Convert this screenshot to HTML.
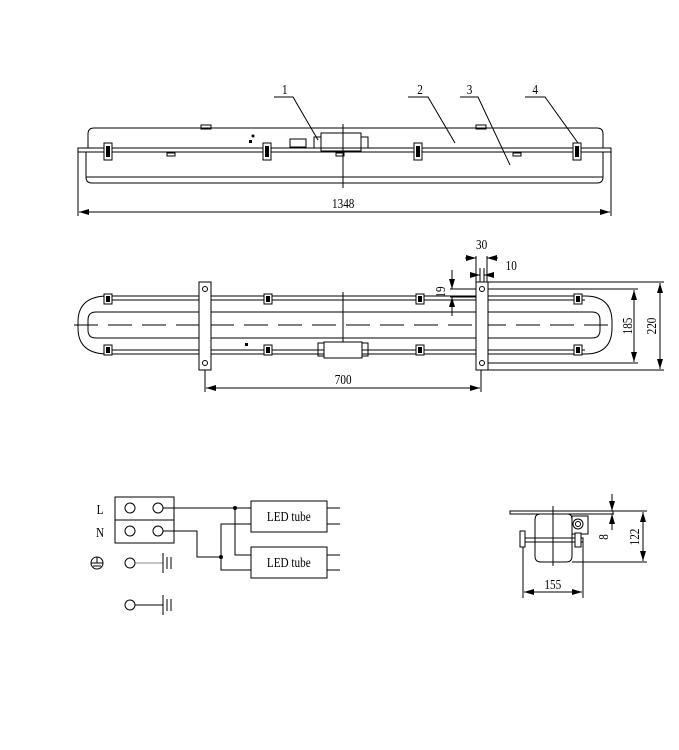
<!DOCTYPE html>
<html><head><style>
body{margin:0;background:#fff}
svg{display:block}
text{font-family:"Liberation Serif",serif;font-size:14px;fill:#000}
</style></head><body>
<svg width="679" height="750" viewBox="0 0 679 750" xmlns="http://www.w3.org/2000/svg">
<defs>
<marker id="a" viewBox="0 0 10 6" refX="10" refY="3" markerWidth="10" markerHeight="6" orient="auto-start-reverse"><path d="M0,0L10,3L0,6z" fill="#000"/></marker>
<g id="clip"><rect x="-4" y="0" width="8" height="17" fill="#fff" stroke="#000"/><rect x="-2" y="3" width="4" height="11" fill="#000"/></g>
<g id="c2"><rect x="-4" y="-5" width="8" height="10" fill="#fff" stroke="#000"/><rect x="-2" y="-3" width="4" height="6" fill="#000"/></g>
</defs>
<g fill="none" stroke="#000" stroke-width="1">
<path d="M94,128H597Q603,128 603,134V148H88V134Q88,128 94,128z"/>
<path d="M78,148H611V152H78z"/>
<path d="M86,152V177Q86,183 92,183H597Q603,183 603,177V152"/>
<line x1="86" y1="177" x2="603" y2="177"/>
<rect x="201" y="125" width="10" height="4"/><rect x="476" y="125" width="10" height="4"/>
<rect x="167" y="153" width="8" height="3"/><rect x="336" y="153" width="8" height="3"/><rect x="513" y="153" width="8" height="3"/>
<rect x="290" y="139" width="16" height="8"/>
<rect x="321" y="133" width="40" height="18"/>
<rect x="314" y="137" width="7" height="11"/><rect x="361" y="137" width="7" height="11"/>
<line x1="343" y1="124" x2="343" y2="188"/>
<line x1="78" y1="152" x2="78" y2="216"/><line x1="611" y1="152" x2="611" y2="216"/>
<line x1="79" y1="212" x2="610" y2="212" marker-start="url(#a)" marker-end="url(#a)"/>
<polyline points="274,97 293,97 318,140"/>
<polyline points="408,97 428,97 455,143"/>
<polyline points="460,97 478,97 510,165"/>
<polyline points="525,97 545,97 578,143"/>
<path d="M108,296H585Q612,296 612,322V328Q612,354 585,354H108Q78,354 78,328V322Q78,296 108,296z"/>
<line x1="108" y1="300" x2="585" y2="300"/><line x1="108" y1="350" x2="585" y2="350"/>
<path d="M96,312H592Q600,312 600,320V330Q600,338 592,338H96Q88,338 88,330V320Q88,312 96,312z"/>
<line x1="74" y1="325" x2="618" y2="325" stroke-dasharray="24,10"/>
<rect x="199" y="282" width="12" height="88" fill="#fff"/>
<rect x="476" y="282" width="12" height="88" fill="#fff"/>
<circle cx="205" cy="289" r="2.5"/><circle cx="205" cy="363" r="2.5"/>
<circle cx="482" cy="289" r="2.5"/><circle cx="482" cy="363" r="2.5"/>
<line x1="343" y1="292" x2="343" y2="358"/>
<rect x="324" y="342" width="38" height="16" fill="#fff"/><rect x="318" y="343" width="6" height="13"/><rect x="362" y="343" width="6" height="13"/>
<line x1="205" y1="370" x2="205" y2="392"/><line x1="481" y1="370" x2="481" y2="392"/>
<line x1="206" y1="388" x2="480" y2="388" marker-start="url(#a)" marker-end="url(#a)"/>
<line x1="488" y1="282" x2="664" y2="282"/><line x1="488" y1="370" x2="664" y2="370"/>
<line x1="488" y1="289" x2="638" y2="289"/><line x1="488" y1="363" x2="638" y2="363"/>
<line x1="660" y1="283" x2="660" y2="369" marker-start="url(#a)" marker-end="url(#a)"/>
<line x1="634" y1="290" x2="634" y2="362" marker-start="url(#a)" marker-end="url(#a)"/>
<line x1="476" y1="256" x2="476" y2="282"/><line x1="487" y1="256" x2="487" y2="282"/>
<line x1="465" y1="258" x2="476" y2="258" marker-end="url(#a)"/><line x1="498" y1="258" x2="487" y2="258" marker-end="url(#a)"/>
<line x1="480" y1="268" x2="480" y2="282"/><line x1="484" y1="268" x2="484" y2="282"/>
<line x1="470" y1="275" x2="480" y2="275" marker-end="url(#a)"/><line x1="494" y1="275" x2="484" y2="275" marker-end="url(#a)"/>
<line x1="450" y1="289" x2="476" y2="289"/><line x1="450" y1="297" x2="476" y2="297"/>
<line x1="452" y1="270" x2="452" y2="289" marker-end="url(#a)"/><line x1="452" y1="316" x2="452" y2="297" marker-end="url(#a)"/>
<rect x="115" y="497" width="59" height="46"/><line x1="115" y1="520" x2="174" y2="520"/>
<circle cx="130" cy="508" r="5"/><circle cx="158" cy="508" r="5"/><circle cx="130" cy="531" r="5"/><circle cx="158" cy="531" r="5"/>
<rect x="251" y="501" width="76" height="31"/><rect x="251" y="547" width="76" height="31"/>
<line x1="327" y1="508" x2="340" y2="508"/><line x1="327" y1="524" x2="340" y2="524"/>
<line x1="327" y1="555" x2="340" y2="555"/><line x1="327" y1="570" x2="340" y2="570"/>
<polyline points="163,508 251,508"/><polyline points="235,508 235,555 251,555"/>
<polyline points="163,531 197,531 197,557 221,557"/><polyline points="251,524 221,524 221,570 251,570"/>
<circle cx="97" cy="563" r="6"/><line x1="91" y1="563" x2="103" y2="563"/><line x1="97" y1="557" x2="97" y2="563"/><line x1="93" y1="566" x2="101" y2="566"/>
<circle cx="130" cy="563" r="5"/><line x1="135" y1="563" x2="163" y2="563" stroke="#888"/>
<line x1="163" y1="553" x2="163" y2="573"/><line x1="167" y1="557" x2="167" y2="569"/><line x1="171" y1="557" x2="171" y2="569"/>
<circle cx="130" cy="605" r="5"/><line x1="135" y1="605" x2="163" y2="605"/>
<line x1="163" y1="595" x2="163" y2="615"/><line x1="167" y1="599" x2="167" y2="611"/><line x1="171" y1="599" x2="171" y2="611"/>
<rect x="510" y="511" width="103" height="3"/>
<path d="M540,514H568Q572,514 572,520V556Q572,562 566,562H541Q535,562 535,556V520Q535,514 540,514z"/>
<rect x="523" y="538" width="60" height="4"/>
<rect x="572" y="516" width="16" height="18"/><circle cx="578" cy="524" r="5"/><circle cx="578" cy="524" r="2.5"/>
<line x1="553" y1="506" x2="553" y2="566"/>
<line x1="523" y1="538" x2="523" y2="598"/><line x1="583" y1="542" x2="583" y2="598"/>
<line x1="524" y1="592" x2="582" y2="592" marker-start="url(#a)" marker-end="url(#a)"/>
<line x1="572" y1="562" x2="647" y2="562"/><line x1="613" y1="511" x2="647" y2="511"/>
<line x1="643" y1="512" x2="643" y2="561" marker-start="url(#a)" marker-end="url(#a)"/>
<line x1="612" y1="494" x2="612" y2="511" marker-end="url(#a)"/><line x1="612" y1="530" x2="612" y2="514" marker-end="url(#a)"/>
<line x1="600" y1="514" x2="614" y2="514"/>
<path d="M520,531h5v16h-5zM575,533h6v14h-6z" fill="#fff"/>
</g>
<use href="#clip" x="108" y="143"/><use href="#clip" x="267" y="143"/><use href="#clip" x="418" y="143"/><use href="#clip" x="577" y="143"/>
<use href="#c2" x="108" y="299"/><use href="#c2" x="268" y="299"/><use href="#c2" x="420" y="299"/><use href="#c2" x="578" y="299"/>
<use href="#c2" x="108" y="350"/><use href="#c2" x="268" y="350"/><use href="#c2" x="420" y="350"/><use href="#c2" x="578" y="350"/>
<g fill="#000"><rect x="249" y="140" width="3" height="3"/><circle cx="253" cy="136" r="1.5"/><rect x="245" y="343" width="3" height="3"/><circle cx="235" cy="508" r="2"/><circle cx="221" cy="557" r="2"/></g>
<g transform="scale(0.8,1)">
<text x="356" y="94" text-anchor="middle">1</text>
<text x="525" y="94" text-anchor="middle">2</text>
<text x="587" y="94" text-anchor="middle">3</text>
<text x="669" y="94" text-anchor="middle">4</text>
<text x="429" y="208" text-anchor="middle">1348</text>
<text x="429" y="384" text-anchor="middle">700</text>
<text x="602" y="249" text-anchor="middle">30</text>
<text x="639" y="270" text-anchor="middle">10</text>
<text x="125" y="514" text-anchor="middle">L</text>
<text x="125" y="537" text-anchor="middle">N</text>
<text x="361" y="521" text-anchor="middle">LED tube</text>
<text x="361" y="567" text-anchor="middle">LED tube</text>
<text x="691" y="589" text-anchor="middle">155</text>
</g>
<text transform="translate(445,292) rotate(-90) scale(0.8,1)" text-anchor="middle">19</text>
<text transform="translate(632,326) rotate(-90) scale(0.8,1)" text-anchor="middle">185</text>
<text transform="translate(656,326) rotate(-90) scale(0.8,1)" text-anchor="middle">220</text>
<text transform="translate(608,537) rotate(-90) scale(0.8,1)" text-anchor="middle">8</text>
<text transform="translate(639,537) rotate(-90) scale(0.8,1)" text-anchor="middle">122</text>
</svg>
</body></html>
